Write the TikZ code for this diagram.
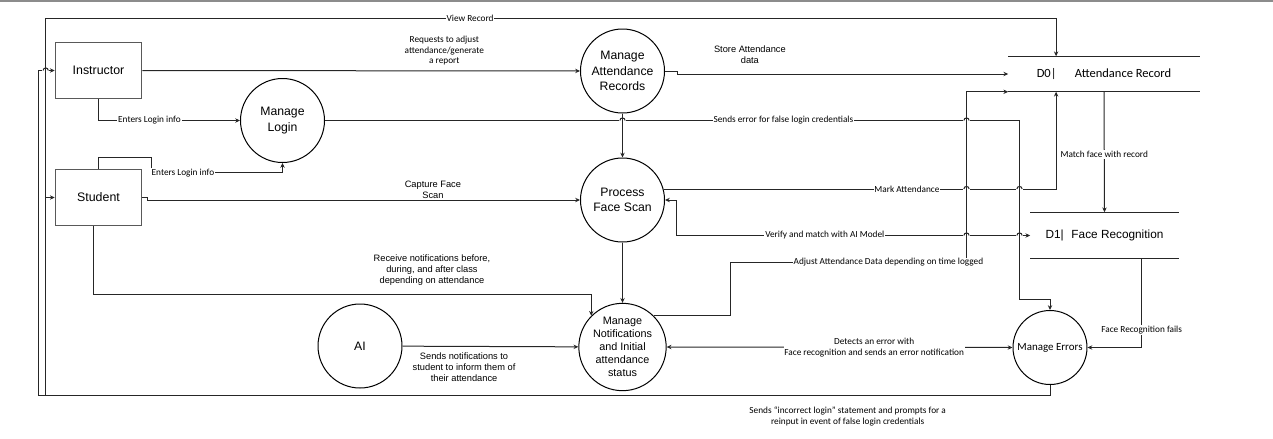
\documentclass[tikz,border=0pt]{standalone}
\usepackage{fontspec}
\setmainfont{Liberation Sans}
\newfontfamily\calibri{Carlito}
\usepackage{tikz}
\usetikzlibrary{arrows.meta,calc}
\tikzset{
  >={Stealth[length=1.2mm, width=1.1mm]},
  wire/.style={line width=0.25mm, draw=black!85},
  arr/.style={->, wire},
  proc/.style={draw, circle, line width=0.25mm, minimum size=21mm, inner sep=1pt, align=center, font=\fontsize{8.7}{10.9}\selectfont},
  ent/.style={draw=black!65, line width=0.4mm, minimum width=21.5mm, minimum height=14mm, font=\fontsize{8.8}{10}\selectfont},
  store/.style={inner sep=0pt, align=center},
  lbl/.style={font=\calibri\fontsize{6.6}{7.8}\selectfont, align=center, inner sep=0.6pt, fill=white},
  albl/.style={font=\fontsize{6.6}{7.8}\selectfont, align=center, inner sep=0.6pt},
}

\begin{document}
\begin{tikzpicture}[x=0.25mm, y=-0.25mm]
  \useasboundingbox (-0.5,-0.5) rectangle (1272.5,437.5);
  \draw[black!45, line width=0.5mm] (-0.5,0.5) -- (1272.5,0.5);

  % external entities
  \node[ent] (ins) at (98,70) {Instructor};
  \node[ent] (stu) at (98,197) {Student};

  % processes
  \node[proc] (login) at (282,120) {Manage\\Login};
  \node[proc] (mar) at (622,70.5) {Manage\\Attendance\\Records};
  \node[proc] (pfs) at (622,199.5) {Process\\Face Scan};
  \node[proc, font=\fontsize{7.7}{9.2}\selectfont] (mnis) at (622,346.5) {Manage\\Notifications\\and Initial\\attendance\\status};
  \node[proc] (ai) at (359.5,345.5) {AI};
  \node[proc, minimum size=18.5mm, font=\calibri\fontsize{7.8}{9}\selectfont] (err) at (1049.5,347) {Manage Errors};

  % data stores
  \node[store, minimum width=47.75mm, minimum height=8.75mm, font=\calibri\fontsize{8.9}{10}\selectfont] (d0) at (1103.5,73.5) {D0|\hspace{13pt}Attendance Record};
  \draw[wire] (d0.north west) -- (d0.north east);
  \draw[wire] (d0.south west) -- (d0.south east);
  \node[store, minimum width=37mm, minimum height=11.5mm, font=\fontsize{8.4}{10}\selectfont] (d1) at (1104,235) {D1|\hspace{5.5pt}Face Recognition};
  \draw[wire] (d1.north west) -- (d1.north east);
  \draw[wire] (d1.south west) -- (d1.south east);

  % bend points
  \coordinate (vr) at ($(stu.west)+(-9,0)$);
  \coordinate (errdrop) at (1019,299);
  \coordinate (adjbend) at (730,262);
  \coordinate (adjup) at (966,262);

  % flows
  \draw[arr] (ins) -- node[lbl, fill=none, pos=0.69, above=1mm]{Requests to adjust\\attendance/generate\\a report} (mar);
  \draw[arr] (ins.south) |- node[lbl, pos=0.68]{Enters Login info} (login.west);
  \draw[arr] (stu.north) -- ++(0,-11) -| ($(stu.north)+(53,4)$) -| node[lbl, pos=0.12]{Enters Login info} (login.south);
  \draw[arr] (login.east) -| node[lbl, pos=0.33]{Sends error for false login credentials} (errdrop) -| (err.north);
  \draw[arr] (mar.east) -- ++(12,0) |- node[albl, pos=0.61, above=2.2mm]{Store Attendance\\data} (d0.west);
  \draw[arr] (mar) -- (pfs);
  \draw[arr] (stu.east) -- ++(5,0) |- node[albl, pos=0.83, above=0mm]{Capture Face\\Scan} (pfs.west);
  \draw[arr] (pfs.15) -| node[lbl, pos=0.31]{Mark Attendance} ($(d0.south west)!0.25!(d0.south east)$);
  \draw[arr] (d0.south) -- node[lbl, pos=0.52]{Match face with record} (d1.north);
  \draw[<->, wire] (pfs.east) -- ++(11,0) |- node[lbl, pos=0.71]{Verify and match with AI Model} (d1.west);
  \draw[arr] (pfs) -- (mnis);
  \draw[arr] ($(stu.south)+(-5,0)$) -- ++(0,68) -| node[albl, pos=0.34, above=2mm]{Receive notifications before,\\during, and after class\\depending on attendance} (mnis.135);
  \draw[arr] (ai) -- node[albl, pos=0.35, below=1.2mm]{Sends notifications to\\student to inform them of\\their attendance} (mnis);
  \draw[arr] (mnis.45) -| (adjbend) -| node[lbl, pos=0.335]{Adjust Attendance Data depending on time logged} ($(d0.south west)+(-42,0)$) -- (d0.south west);
  \draw[<->, wire] (mnis.east) -- node[lbl, pos=0.6]{Detects an error with\\Face recognition and sends an error notification} (err.west);
  \draw[arr] ($(d1.south west)!0.75!(d1.south east)$) |- node[lbl, pos=0.4]{Face Recognition fails} (err.east);
  \draw[arr] (err.south) |- node[lbl, fill=none, pos=0.6, below=2.5mm]{Sends “incorrect login” statement and prompts for a\\reinput in event of false login credentials} ($(ins.west)+(-16,325)$) |- (ins.west);
  \draw[arr] (err.south) |- ($(stu.west)+(-9,198)$) |- (stu.west);
  \draw[arr] (vr) -- ++(0,-179) -| node[lbl, pos=0.21]{View Record} ($(d0.north west)!0.25!(d0.north east)$);

  % line jumps
  \coordinate (h1) at (ins.west -| vr);
  \coordinate (h2) at (login.east -| mar.south);
  \coordinate (h3) at (login.east -| adjup);
  \coordinate (h4) at (pfs.15 -| adjup);
  \coordinate (h5) at (pfs.15 -| errdrop);
  \coordinate (h6) at (d1.west -| adjup);
  \coordinate (h7) at (d1.west -| errdrop);
  \foreach \c in {h1,h2,h3,h4,h5,h6,h7} {
    \fill[white] ($(\c)+(-3.2,-1.6)$) rectangle ($(\c)+(3.2,1.6)$);
    \draw[wire] ($(\c)+(0,-3.5)$) -- ($(\c)+(0,3.5)$);
    \draw[wire] ($(\c)+(-2.6,0)$) arc[start angle=180, end angle=0, radius=0.65mm];
  }
\end{tikzpicture}
\end{document}
